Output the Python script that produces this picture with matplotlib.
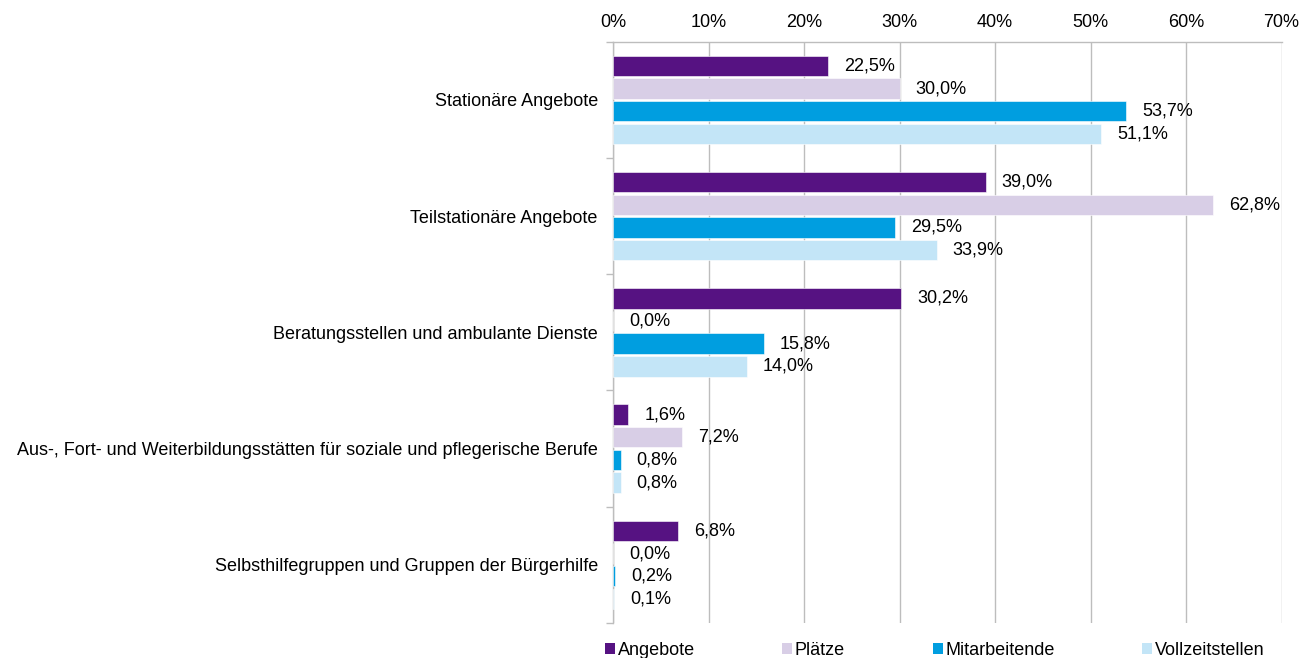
import matplotlib
matplotlib.use("Agg")
import matplotlib.pyplot as plt
from matplotlib.patches import Patch
from matplotlib.ticker import FixedLocator, PercentFormatter
import numpy as np

plt.rcParams["font.family"] = ["Liberation Sans", "DejaVu Sans"]

categories = [
    "Stationäre Angebote",
    "Teilstationäre Angebote",
    "Beratungsstellen und ambulante Dienste",
    "Aus-, Fort- und Weiterbildungsstätten für soziale und pflegerische Berufe",
    "Selbsthilfegruppen und Gruppen der Bürgerhilfe",
]
series_names = ["Angebote", "Plätze", "Mitarbeitende", "Vollzeitstellen"]
angebote = [22.5, 39.0, 30.2, 1.6, 6.8]
plaetze = [30.0, 62.8, 0.0, 7.2, 0.0]
mitarbeitende = [53.7, 29.5, 15.8, 0.8, 0.2]
vollzeitstellen = [51.1, 33.9, 14.0, 0.8, 0.1]
x_ticks = [0, 10, 20, 30, 40, 50, 60, 70]

colors = ["#561282", "#D8CEE6", "#009EE0", "#C3E5F7"]
grid_color = "#BDBDBD"
fs = 13

fig = plt.figure(figsize=(13.01, 6.58), dpi=100)
ax = fig.add_axes([0.4712, 0.0532, 0.9851 - 0.4712, 0.9366 - 0.0532])

series = [angebote, plaetze, mitarbeitende, vollzeitstellen]
y = np.arange(len(categories))
step = 0.195
offsets = (np.arange(4) - 1.5) * step

for vals, name, col, off in zip(series, series_names, colors, offsets):
    ax.barh(y + off, vals, height=step * 0.9, color=col,
            edgecolor="white", linewidth=0.4, label=name, zorder=3)
    for v, yy in zip(vals, y + off):
        ax.annotate(f"{v:.1f}%".replace(".", ","), xy=(v, yy),
                    xytext=(16, 0), textcoords="offset pixels",
                    va="center", ha="left", fontsize=fs, color="black", zorder=4)

ax.set_xlim(0, 70)
ax.set_ylim(len(categories) - 0.5, -0.5)

ax.xaxis.set_major_locator(FixedLocator(x_ticks))
ax.xaxis.set_major_formatter(PercentFormatter(decimals=0))
ax.xaxis.tick_top()
ax.tick_params(axis="x", which="major", length=0, pad=8, labelsize=fs)
ax.grid(axis="x", color=grid_color, linewidth=1.0, zorder=0)

ax.set_yticks(y)
ax.set_yticklabels(categories, fontsize=fs)
ax.set_yticks(np.arange(len(categories) + 1) - 0.5, minor=True)
ax.tick_params(axis="y", which="major", length=0, pad=11)
ax.tick_params(axis="y", which="minor", length=5, color=grid_color, width=1.0)

for side in ["right", "bottom"]:
    ax.spines[side].set_visible(False)
for side in ["top", "left"]:
    ax.spines[side].set_color(grid_color)
    ax.spines[side].set_linewidth(1.0)

handles = [Patch(facecolor=c, edgecolor="none") for c in colors]
fig.legend(handles, series_names, loc="center left",
           bbox_to_anchor=(0.465, 0.012), ncol=4, frameon=False,
           fontsize=fs, handlelength=0.55, handleheight=0.55,
           handletextpad=0.15, columnspacing=4.85, borderaxespad=0,
           borderpad=0)

fig.savefig("out.png", dpi=100)
